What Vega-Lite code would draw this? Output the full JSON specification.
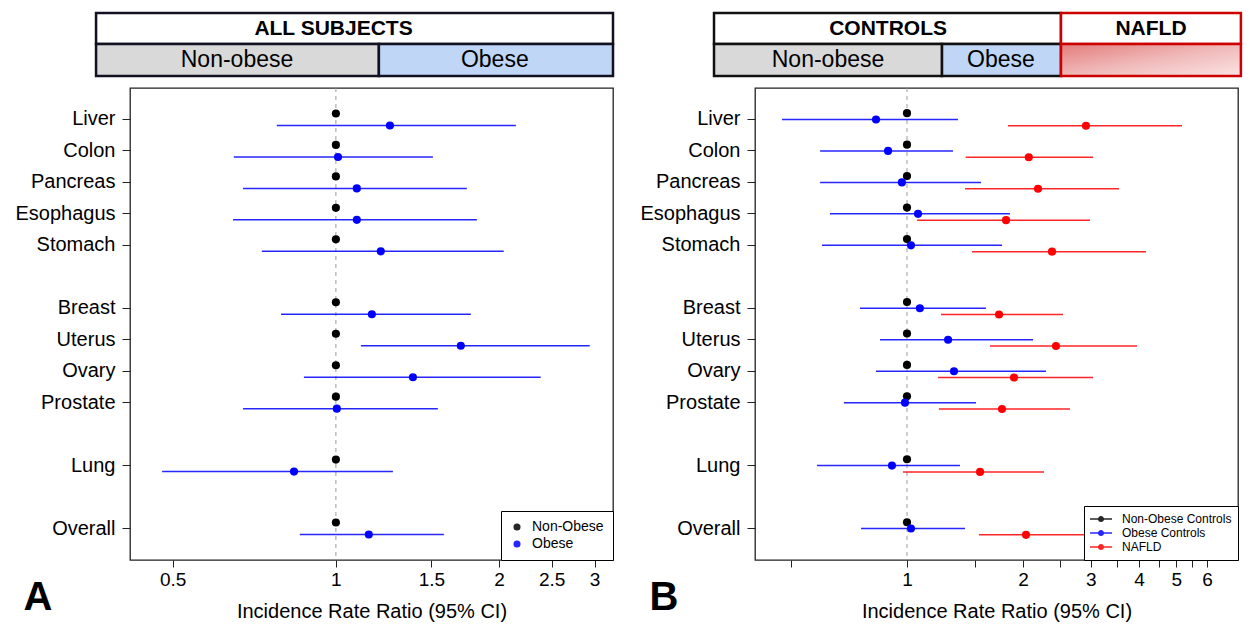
{
  "$schema": "https://vega.github.io/schema/vega-lite/v6.json",
  "padding": {"left": 14, "top": 11, "right": 5, "bottom": 5},
  "background": "white",
  "config": {
    "font": "Liberation Sans",
    "view": {"stroke": "#222222", "strokeWidth": 1.3},
    "axis": {"grid": false, "domain": false, "tickColor": "#222222", "labelColor": "#000000", "titleColor": "#000000", "tickWidth": 1}
  },
  "datasets": {
    "rrA": [
      {"site": "Liver", "group": "Non-Obese", "irr": 1},
      {"site": "Liver", "group": "Obese", "irr": 1.258, "lo": 0.778, "hi": 2.148},
      {"site": "Colon", "group": "Non-Obese", "irr": 1},
      {"site": "Colon", "group": "Obese", "irr": 1.009, "lo": 0.648, "hi": 1.51},
      {"site": "Pancreas", "group": "Non-Obese", "irr": 1},
      {"site": "Pancreas", "group": "Obese", "irr": 1.093, "lo": 0.674, "hi": 1.744},
      {"site": "Esophagus", "group": "Non-Obese", "irr": 1},
      {"site": "Esophagus", "group": "Obese", "irr": 1.093, "lo": 0.646, "hi": 1.82},
      {"site": "Stomach", "group": "Non-Obese", "irr": 1},
      {"site": "Stomach", "group": "Obese", "irr": 1.21, "lo": 0.73, "hi": 2.04},
      {"site": "Breast", "group": "Non-Obese", "irr": 1},
      {"site": "Breast", "group": "Obese", "irr": 1.165, "lo": 0.792, "hi": 1.774},
      {"site": "Uterus", "group": "Non-Obese", "irr": 1},
      {"site": "Uterus", "group": "Obese", "irr": 1.7, "lo": 1.112, "hi": 2.94},
      {"site": "Ovary", "group": "Non-Obese", "irr": 1},
      {"site": "Ovary", "group": "Obese", "irr": 1.387, "lo": 0.873, "hi": 2.387},
      {"site": "Prostate", "group": "Non-Obese", "irr": 1},
      {"site": "Prostate", "group": "Obese", "irr": 1.004, "lo": 0.674, "hi": 1.542},
      {"site": "Lung", "group": "Non-Obese", "irr": 1},
      {"site": "Lung", "group": "Obese", "irr": 0.837, "lo": 0.478, "hi": 1.274},
      {"site": "Overall", "group": "Non-Obese", "irr": 1},
      {"site": "Overall", "group": "Obese", "irr": 1.15, "lo": 0.858, "hi": 1.582}
    ],
    "rrB": [
      {"site": "Liver", "group": "Non-Obese Controls", "irr": 1},
      {"site": "Liver", "group": "Obese Controls", "irr": 0.831, "lo": 0.474, "hi": 1.356},
      {"site": "Liver", "group": "NAFLD", "irr": 2.913, "lo": 1.828, "hi": 5.17},
      {"site": "Colon", "group": "Non-Obese Controls", "irr": 1},
      {"site": "Colon", "group": "Obese Controls", "irr": 0.893, "lo": 0.595, "hi": 1.316},
      {"site": "Colon", "group": "NAFLD", "irr": 2.07, "lo": 1.42, "hi": 3.04},
      {"site": "Pancreas", "group": "Non-Obese Controls", "irr": 1},
      {"site": "Pancreas", "group": "Obese Controls", "irr": 0.97, "lo": 0.595, "hi": 1.556},
      {"site": "Pancreas", "group": "NAFLD", "irr": 2.187, "lo": 1.414, "hi": 3.548},
      {"site": "Esophagus", "group": "Non-Obese Controls", "irr": 1},
      {"site": "Esophagus", "group": "Obese Controls", "irr": 1.068, "lo": 0.631, "hi": 1.85},
      {"site": "Esophagus", "group": "NAFLD", "irr": 1.807, "lo": 1.062, "hi": 2.984},
      {"site": "Stomach", "group": "Non-Obese Controls", "irr": 1},
      {"site": "Stomach", "group": "Obese Controls", "irr": 1.024, "lo": 0.602, "hi": 1.764},
      {"site": "Stomach", "group": "NAFLD", "irr": 2.378, "lo": 1.475, "hi": 4.17},
      {"site": "Breast", "group": "Non-Obese Controls", "irr": 1},
      {"site": "Breast", "group": "Obese Controls", "irr": 1.08, "lo": 0.755, "hi": 1.603},
      {"site": "Breast", "group": "NAFLD", "irr": 1.733, "lo": 1.225, "hi": 2.54},
      {"site": "Uterus", "group": "Non-Obese Controls", "irr": 1},
      {"site": "Uterus", "group": "Obese Controls", "irr": 1.278, "lo": 0.851, "hi": 2.123},
      {"site": "Uterus", "group": "NAFLD", "irr": 2.435, "lo": 1.642, "hi": 3.95},
      {"site": "Ovary", "group": "Non-Obese Controls", "irr": 1},
      {"site": "Ovary", "group": "Obese Controls", "irr": 1.324, "lo": 0.831, "hi": 2.294},
      {"site": "Ovary", "group": "NAFLD", "irr": 1.895, "lo": 1.204, "hi": 3.04},
      {"site": "Prostate", "group": "Non-Obese Controls", "irr": 1},
      {"site": "Prostate", "group": "Obese Controls", "irr": 0.988, "lo": 0.686, "hi": 1.51},
      {"site": "Prostate", "group": "NAFLD", "irr": 1.764, "lo": 1.21, "hi": 2.648},
      {"site": "Lung", "group": "Non-Obese Controls", "irr": 1},
      {"site": "Lung", "group": "Obese Controls", "irr": 0.914, "lo": 0.584, "hi": 1.372},
      {"site": "Lung", "group": "NAFLD", "irr": 1.547, "lo": 0.976, "hi": 2.267},
      {"site": "Overall", "group": "Non-Obese Controls", "irr": 1},
      {"site": "Overall", "group": "Obese Controls", "irr": 1.024, "lo": 0.76, "hi": 1.414},
      {"site": "Overall", "group": "NAFLD", "irr": 2.036, "lo": 1.537, "hi": 2.9}
    ],
    "hdrA": [
      {"cohort": "ALL SUBJECTS", "tier": "top", "kind": "title", "label": "ALL SUBJECTS", "x1": 0.361, "x2": 3.245, "xc": 0.99, "y1": 1.0932, "y2": 1.1589, "yc": 1.126},
      {"cohort": "ALL SUBJECTS", "tier": "sub", "kind": "nonobese", "label": "Non-obese", "x1": 0.361, "x2": 1.2003, "xc": 0.657, "y1": 1.0254, "y2": 1.0932, "yc": 1.0593},
      {"cohort": "ALL SUBJECTS", "tier": "sub", "kind": "obese", "label": "Obese", "x1": 1.2003, "x2": 3.245, "xc": 1.964, "y1": 1.0254, "y2": 1.0932, "yc": 1.0593}
    ],
    "hdrB": [
      {"cohort": "CONTROLS", "tier": "top", "kind": "title", "label": "CONTROLS", "x1": 0.3157, "x2": 2.509, "xc": 0.893, "y1": 1.0932, "y2": 1.1589, "yc": 1.126},
      {"cohort": "CONTROLS", "tier": "sub", "kind": "nonobese", "label": "Non-obese", "x1": 0.3157, "x2": 1.2326, "xc": 0.6238, "y1": 1.0254, "y2": 1.0932, "yc": 1.0593},
      {"cohort": "CONTROLS", "tier": "sub", "kind": "obese", "label": "Obese", "x1": 1.2326, "x2": 2.509, "xc": 1.753, "y1": 1.0254, "y2": 1.0932, "yc": 1.0593},
      {"cohort": "NAFLD", "tier": "top", "kind": "title", "label": "NAFLD", "x1": 2.509, "x2": 7.35, "xc": 4.296, "y1": 1.0932, "y2": 1.1589, "yc": 1.126},
      {"cohort": "NAFLD", "tier": "sub", "kind": "nafld", "label": "", "x1": 2.509, "x2": 7.35, "xc": 4.296, "y1": 1.0254, "y2": 1.0932, "yc": 1.0593}
    ]
  },
  "resolve": {
    "scale": {"x": "independent", "y": "independent", "color": "independent", "fill": "independent", "yOffset": "independent"},
    "legend": {"color": "independent"}
  },
  "spacing": 24,
  "hconcat": [
    {
      "width": 483,
      "height": 472,
      "resolve": {"scale": {"y": "independent"}},
      "layer": [
        {
          "layer": [
            {
              "data": {"values": [{"ref": 1}]},
              "mark": {"type": "rule", "color": "#9c9c9c", "strokeDash": [4, 4], "strokeWidth": 1},
              "encoding": {"x": {"field": "ref", "type": "quantitative"}}
            },
            {
              "data": {"name": "rrA"},
              "mark": {"type": "rule", "strokeWidth": 1.5, "opacity": 0.85},
              "encoding": {
                "x": {"field": "lo", "type": "quantitative"},
                "x2": {"field": "hi"},
                "y": {"field": "site", "type": "nominal", "scale": {"type": "band", "domain": ["Liver", "Colon", "Pancreas", "Esophagus", "Stomach", "gap1", "Breast", "Uterus", "Ovary", "Prostate", "gap2", "Lung", "gap3", "Overall"], "paddingInner": 0, "paddingOuter": 0.5}},
                "yOffset": {"field": "group", "type": "nominal", "scale": {"domain": ["Non-Obese", "Obese"], "paddingInner": 0, "paddingOuter": 0.31}},
                "color": {"field": "group", "type": "nominal", "scale": {"domain": ["Non-Obese", "Obese"], "range": ["#000000", "#0000ff"]}}
              }
            },
            {
              "data": {"name": "rrA"},
              "mark": {"type": "point", "filled": true, "size": 66, "opacity": 1},
              "encoding": {
                "x": {"field": "irr", "type": "quantitative", "scale": {"type": "log", "domain": [0.417, 3.245], "nice": false},
                  "axis": {"title": "Incidence Rate Ratio (95% CI)", "values": [0.5, 1, 1.5, 2, 2.5, 3], "labelExpr": "'' + datum.value", "labelFontSize": 19, "titleFontSize": 20, "titleFontWeight": "normal", "tickSize": 7, "labelPadding": 3, "titlePadding": 12, "labelFlush": false, "labelOverlap": false}},
                "y": {"field": "site", "type": "nominal", "scale": {"type": "band", "domain": ["Liver", "Colon", "Pancreas", "Esophagus", "Stomach", "gap1", "Breast", "Uterus", "Ovary", "Prostate", "gap2", "Lung", "gap3", "Overall"], "paddingInner": 0, "paddingOuter": 0.5},
                  "axis": {"title": null, "values": ["Liver", "Colon", "Pancreas", "Esophagus", "Stomach", "Breast", "Uterus", "Ovary", "Prostate", "Lung", "Overall"], "labelFontSize": 20, "tickSize": 8, "labelPadding": 7, "labelLimit": 0}},
                "yOffset": {"field": "group", "type": "nominal", "scale": {"domain": ["Non-Obese", "Obese"], "paddingInner": 0, "paddingOuter": 0.31}},
                "color": {"field": "group", "type": "nominal", "scale": {"domain": ["Non-Obese", "Obese"], "range": ["#000000", "#0000ff"]},
                  "legend": {"orient": "bottom-right", "offset": 0, "title": null, "strokeColor": "#000000", "fillColor": "#ffffff", "padding": 9, "labelFontSize": 14, "symbolType": "circle", "symbolSize": 50, "rowPadding": 3, "labelOffset": 8, "symbolStrokeWidth": 0}}
              }
            }
          ]
        },
        {
          "layer": [
            {
              "data": {"name": "hdrA"},
              "mark": {"type": "rect", "stroke": "#111122", "strokeWidth": 2.5},
              "encoding": {
                "x": {"field": "x1", "type": "quantitative"},
                "x2": {"field": "x2"},
                "y": {"field": "y1", "type": "quantitative", "scale": {"domain": [0, 1], "nice": false, "zero": false}, "axis": null},
                "y2": {"field": "y2"},
                "fill": {"field": "kind", "type": "nominal", "scale": {"domain": ["title", "nonobese", "obese", "nafld"], "range": ["#ffffff", "#d9d9d9", "#bfd6f6", "#ffffff"]}, "legend": null}
              }
            },
            {
              "data": {"name": "hdrA"},
              "transform": [{"filter": "datum.tier == 'top'"}],
              "mark": {"type": "text", "fontSize": 21, "fontWeight": "bold", "baseline": "middle", "align": "center", "color": "#000000"},
              "encoding": {
                "x": {"field": "xc", "type": "quantitative"},
                "y": {"field": "yc", "type": "quantitative", "scale": {"domain": [0, 1], "nice": false, "zero": false}, "axis": null},
                "text": {"field": "label"}
              }
            },
            {
              "data": {"name": "hdrA"},
              "transform": [{"filter": "datum.tier == 'sub'"}],
              "mark": {"type": "text", "fontSize": 23, "baseline": "middle", "align": "center", "color": "#000000"},
              "encoding": {
                "x": {"field": "xc", "type": "quantitative"},
                "y": {"field": "yc", "type": "quantitative", "scale": {"domain": [0, 1], "nice": false, "zero": false}, "axis": null},
                "text": {"field": "label"}
              }
            },
            {
              "data": {"values": [{"panel": "A", "px": 0.282, "py": -0.08}]},
              "mark": {"type": "text", "fontSize": 40, "fontWeight": "bold", "baseline": "middle", "align": "center", "color": "#000000"},
              "encoding": {
                "x": {"field": "px", "type": "quantitative"},
                "y": {"field": "py", "type": "quantitative", "scale": {"domain": [0, 1], "nice": false, "zero": false}, "axis": null},
                "text": {"field": "panel"}
              }
            }
          ]
        }
      ]
    },
    {
      "width": 483,
      "height": 472,
      "resolve": {"scale": {"y": "independent"}},
      "layer": [
        {
          "layer": [
            {
              "data": {"values": [{"ref": 1}]},
              "mark": {"type": "rule", "color": "#9c9c9c", "strokeDash": [4, 4], "strokeWidth": 1},
              "encoding": {"x": {"field": "ref", "type": "quantitative"}}
            },
            {
              "data": {"name": "rrB"},
              "mark": {"type": "rule", "strokeWidth": 1.5, "opacity": 0.85},
              "encoding": {
                "x": {"field": "lo", "type": "quantitative"},
                "x2": {"field": "hi"},
                "y": {"field": "site", "type": "nominal", "scale": {"type": "band", "domain": ["Liver", "Colon", "Pancreas", "Esophagus", "Stomach", "gap1", "Breast", "Uterus", "Ovary", "Prostate", "gap2", "Lung", "gap3", "Overall"], "paddingInner": 0, "paddingOuter": 0.5}},
                "yOffset": {"field": "group", "type": "nominal", "scale": {"domain": ["Non-Obese Controls", "Obese Controls", "NAFLD"], "paddingInner": 0, "paddingOuter": 1.12}},
                "color": {"field": "group", "type": "nominal", "scale": {"domain": ["Non-Obese Controls", "Obese Controls", "NAFLD"], "range": ["#000000", "#0000ff", "#ff0000"]}}
              }
            },
            {
              "data": {"name": "rrB"},
              "mark": {"type": "point", "filled": true, "size": 66, "opacity": 1},
              "encoding": {
                "x": {"field": "irr", "type": "quantitative", "scale": {"type": "log", "domain": [0.4033, 7.224], "nice": false},
                  "axis": {"title": "Incidence Rate Ratio (95% CI)", "values": [0.5, 1, 1.5, 2, 2.5, 3, 3.5, 4, 4.5, 5, 5.5, 6], "labelExpr": "datum.value % 1 == 0 ? '' + datum.value : ''", "labelFontSize": 19, "titleFontSize": 20, "titleFontWeight": "normal", "tickSize": 7, "labelPadding": 3, "titlePadding": 12, "labelFlush": false, "labelOverlap": false}},
                "y": {"field": "site", "type": "nominal", "scale": {"type": "band", "domain": ["Liver", "Colon", "Pancreas", "Esophagus", "Stomach", "gap1", "Breast", "Uterus", "Ovary", "Prostate", "gap2", "Lung", "gap3", "Overall"], "paddingInner": 0, "paddingOuter": 0.5},
                  "axis": {"title": null, "values": ["Liver", "Colon", "Pancreas", "Esophagus", "Stomach", "Breast", "Uterus", "Ovary", "Prostate", "Lung", "Overall"], "labelFontSize": 20, "tickSize": 8, "labelPadding": 7, "labelLimit": 0}},
                "yOffset": {"field": "group", "type": "nominal", "scale": {"domain": ["Non-Obese Controls", "Obese Controls", "NAFLD"], "paddingInner": 0, "paddingOuter": 1.12}},
                "color": {"field": "group", "type": "nominal", "scale": {"domain": ["Non-Obese Controls", "Obese Controls", "NAFLD"], "range": ["#000000", "#0000ff", "#ff0000"]},
                  "legend": {"orient": "bottom-right", "offset": 0, "title": null, "strokeColor": "#000000", "fillColor": "#ffffff", "padding": 6, "labelFontSize": 12, "symbolType": "M-1,-0.06H1V0.06H-1Z M0.28,0A0.28,0.28 0 1 1 -0.28,0A0.28,0.28 0 1 1 0.28,0Z", "symbolSize": 484, "clipHeight": 14, "rowPadding": 0, "labelOffset": 10, "symbolStrokeWidth": 0}}
              }
            }
          ]
        },
        {
          "layer": [
            {
              "data": {"name": "hdrB"},
              "transform": [{"filter": "datum.cohort == 'CONTROLS'"}],
              "mark": {"type": "rect", "stroke": "#111111", "strokeWidth": 2.5},
              "encoding": {
                "x": {"field": "x1", "type": "quantitative"},
                "x2": {"field": "x2"},
                "y": {"field": "y1", "type": "quantitative", "scale": {"domain": [0, 1], "nice": false, "zero": false}, "axis": null},
                "y2": {"field": "y2"},
                "fill": {"field": "kind", "type": "nominal", "scale": {"domain": ["title", "nonobese", "obese", "nafld"], "range": ["#ffffff", "#d9d9d9", "#bfd6f6", "#ffffff"]}, "legend": null}
              }
            },
            {
              "data": {"name": "hdrB"},
              "transform": [{"filter": "datum.cohort == 'NAFLD' && datum.tier == 'top'"}],
              "mark": {"type": "rect", "stroke": "#cc0000", "strokeWidth": 2.5, "fill": "#ffffff"},
              "encoding": {
                "x": {"field": "x1", "type": "quantitative"},
                "x2": {"field": "x2"},
                "y": {"field": "y1", "type": "quantitative", "scale": {"domain": [0, 1], "nice": false, "zero": false}, "axis": null},
                "y2": {"field": "y2"}
              }
            },
            {
              "data": {"name": "hdrB"},
              "transform": [{"filter": "datum.cohort == 'NAFLD' && datum.tier == 'sub'"}],
              "mark": {"type": "rect", "stroke": "#cc0000", "strokeWidth": 2.5,
                "fill": {"gradient": "linear", "x1": 0, "y1": 0, "x2": 1, "y2": 1, "stops": [{"offset": 0, "color": "#e47b7b"}, {"offset": 0.5, "color": "#f0b8b8"}, {"offset": 1, "color": "#fbe4e4"}]}},
              "encoding": {
                "x": {"field": "x1", "type": "quantitative"},
                "x2": {"field": "x2"},
                "y": {"field": "y1", "type": "quantitative", "scale": {"domain": [0, 1], "nice": false, "zero": false}, "axis": null},
                "y2": {"field": "y2"}
              }
            },
            {
              "data": {"name": "hdrB"},
              "transform": [{"filter": "datum.tier == 'top'"}],
              "mark": {"type": "text", "fontSize": 21, "fontWeight": "bold", "baseline": "middle", "align": "center", "color": "#000000"},
              "encoding": {
                "x": {"field": "xc", "type": "quantitative"},
                "y": {"field": "yc", "type": "quantitative", "scale": {"domain": [0, 1], "nice": false, "zero": false}, "axis": null},
                "text": {"field": "label"}
              }
            },
            {
              "data": {"name": "hdrB"},
              "transform": [{"filter": "datum.tier == 'sub'"}],
              "mark": {"type": "text", "fontSize": 23, "baseline": "middle", "align": "center", "color": "#000000"},
              "encoding": {
                "x": {"field": "xc", "type": "quantitative"},
                "y": {"field": "yc", "type": "quantitative", "scale": {"domain": [0, 1], "nice": false, "zero": false}, "axis": null},
                "text": {"field": "label"}
              }
            },
            {
              "data": {"values": [{"panel": "B", "px": 0.234, "py": -0.08}]},
              "mark": {"type": "text", "fontSize": 40, "fontWeight": "bold", "baseline": "middle", "align": "center", "color": "#000000"},
              "encoding": {
                "x": {"field": "px", "type": "quantitative"},
                "y": {"field": "py", "type": "quantitative", "scale": {"domain": [0, 1], "nice": false, "zero": false}, "axis": null},
                "text": {"field": "panel"}
              }
            }
          ]
        }
      ]
    }
  ]
}
